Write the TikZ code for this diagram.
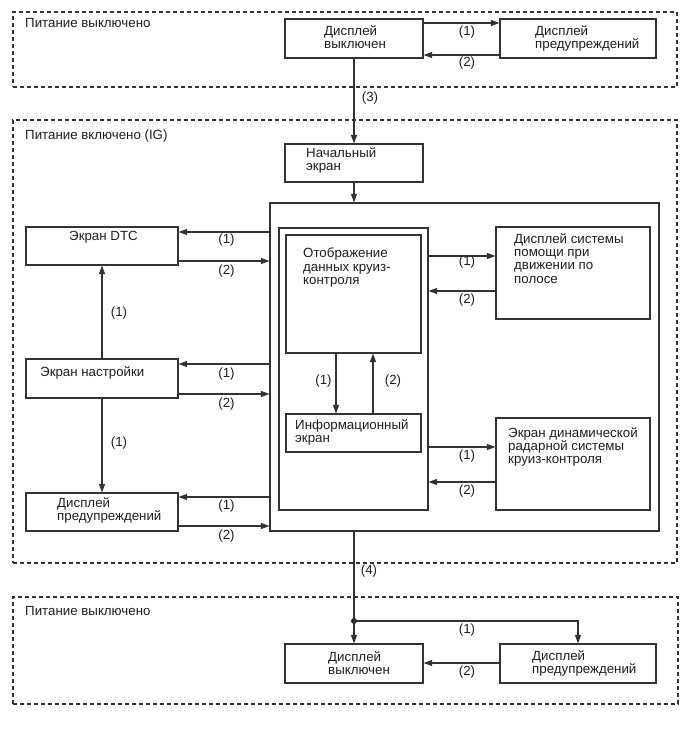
\documentclass[tikz,border=0pt]{standalone}
\usepackage{fontspec}
\setmainfont{Liberation Sans}
\usetikzlibrary{arrows.meta,fit}
\begin{document}
\begin{tikzpicture}[x=1pt,y=-1pt,
  every node/.style={font=\fontsize{13.3}{13.4}\selectfont, text=black!88},
  box/.style={draw=black!80, line width=1.1pt, inner sep=0pt},
  zone/.style={draw=black!80, line width=1.1pt, dash pattern=on 4pt off 3pt, inner sep=0pt},
  arr/.style={draw=black!80, line width=1.1pt, -{Triangle[length=8.5pt,width=6pt]}},
  ln/.style={draw=black!80, line width=1.1pt},
  txt/.style={anchor=north west, inner sep=0pt, align=left},
  lbl/.style={inner sep=0pt}
]
\useasboundingbox (0,0) rectangle (690,756);

% zones
\node[zone, fit={(13,12) (677,87)}] (ztop) {};
\node[zone, fit={(13,120) (677,563)}] (zmid) {};
\node[zone, fit={(13,597) (678,704)}] (zbot) {};
\node[txt] (ttop) at (25,18) {Питание выключено};
\node[txt] (tmid) at (25,129.5) {Питание включено (IG)};
\node[txt] (tbot) at (25,606.5) {Питание выключено};

% boxes
\node[box, fit={(285,19) (423,58)}] (topoff) {};
\node[box, fit={(500,19) (656,58)}] (topwarn) {};
\node[box, fit={(285,144) (423,182)}] (start) {};
\node[box, fit={(270,203) (659,531)}] (big) {};
\node[box, fit={(279,228) (428,510)}] (inner) {};
\node[box, fit={(286,235) (421,353)}] (cruise) {};
\node[box, fit={(286,414) (421,452)}] (info) {};
\node[box, fit={(496,227) (650,319)}] (lane) {};
\node[box, fit={(496,418) (650,510)}] (radar) {};
\node[box, fit={(26,227) (178,265)}] (dtc) {};
\node[box, fit={(26,359) (178,398)}] (setup) {};
\node[box, fit={(26,493) (178,531)}] (warnl) {};
\node[box, fit={(285,644) (423,683)}] (botoff) {};
\node[box, fit={(500,644) (656,683)}] (botwarn) {};

% box texts
\node[txt] (ttopoff) at (324,25) {Дисплей\\выключен};
\node[txt] (ttopwarn) at (535,25) {Дисплей\\предупреждений};
\node[txt] (tstart) at (306,147.5) {Начальный\\экран};
\node[txt] (tdtc) at (69,231.5) {Экран DTC};
\node[txt] (tsetup) at (40,366) {Экран настройки};
\node[txt] (twarnl) at (57,497) {Дисплей\\предупреждений};
\node[txt] (tcruise) at (303,248) {Отображение\\данных круиз-\\контроля};
\node[txt] (tinfo) at (295,419) {Информационный\\экран};
\node[txt] (tlane) at (514,233) {Дисплей системы\\помощи при\\движении по\\полосе};
\node[txt] (tradar) at (508,427) {Экран динамической\\радарной системы\\круиз-контроля};
\node[txt] (tbotoff) at (328,651.5) {Дисплей\\выключен};
\node[txt] (tbotwarn) at (532,650) {Дисплей\\предупреждений};

% top zone connectors
\draw[arr] (topoff.east |- 0,23) -- (topwarn.west |- 0,23);
\draw[arr] (topwarn.west |- 0,55) -- (topoff.east |- 0,55);
\node[lbl] (l1) at (467,32.5) {(1)};
\node[lbl] (l2) at (467,63) {(2)};
\draw[arr] (topoff.south) -- (start.north);
\node[lbl] (l3) at (370,98) {(3)};
\draw[arr] (start.south) -- (start.south |- big.north);

% left side
\draw[arr] (big.west |- 0,232) -- (dtc.east |- 0,232);
\draw[arr] (dtc.east |- 0,261) -- (big.west |- 0,261);
\node[lbl] (ld1) at (226.5,240.5) {(1)};
\node[lbl] (ld2) at (226.5,271.5) {(2)};
\draw[arr] (big.west |- 0,364) -- (setup.east |- 0,364);
\draw[arr] (setup.east |- 0,394) -- (big.west |- 0,394);
\node[lbl] (ls1) at (226.5,374.5) {(1)};
\node[lbl] (ls2) at (226.5,404) {(2)};
\draw[arr] (big.west |- 0,497) -- (warnl.east |- 0,497);
\draw[arr] (warnl.east |- 0,526) -- (big.west |- 0,526);
\node[lbl] (lw1) at (226.5,506.5) {(1)};
\node[lbl] (lw2) at (226.5,536) {(2)};
\draw[arr] (setup.north) -- (dtc.south);
\node[lbl] (lv1) at (119,313.5) {(1)};
\draw[arr] (setup.south) -- (warnl.north);
\node[lbl] (lv2) at (119,443) {(1)};

% inside
\draw[arr] (cruise.south -| 336,0) -- (info.north -| 336,0);
\draw[arr] (info.north -| 373,0) -- (cruise.south -| 373,0);
\node[lbl] (lc1) at (323.5,381) {(1)};
\node[lbl] (lc2) at (393,381) {(2)};

% right side
\draw[arr] (inner.east |- 0,256) -- (lane.west |- 0,256);
\draw[arr] (lane.west |- 0,291) -- (inner.east |- 0,291);
\node[lbl] (ll1) at (467,262.5) {(1)};
\node[lbl] (ll2) at (467,300.5) {(2)};
\draw[arr] (inner.east |- 0,447) -- (radar.west |- 0,447);
\draw[arr] (radar.west |- 0,482) -- (inner.east |- 0,482);
\node[lbl] (lr1) at (467,456.5) {(1)};
\node[lbl] (lr2) at (467,491) {(2)};

% bottom
\coordinate (dot) at (354,621);
\draw[ln] (big.south -| botoff.north) -- (dot);
\fill[black!85] (dot) circle (3pt);
\draw[arr] (dot) -- (botoff.north);
\draw[arr] (dot) -| (botwarn.north);
\node[lbl] (l4) at (369,571.5) {(4)};
\node[lbl] (lb1) at (467,630) {(1)};
\draw[arr] (botwarn.west |- 0,663) -- (botoff.east |- 0,663);
\node[lbl] (lb2) at (467,672.5) {(2)};
\end{tikzpicture}
\end{document}
